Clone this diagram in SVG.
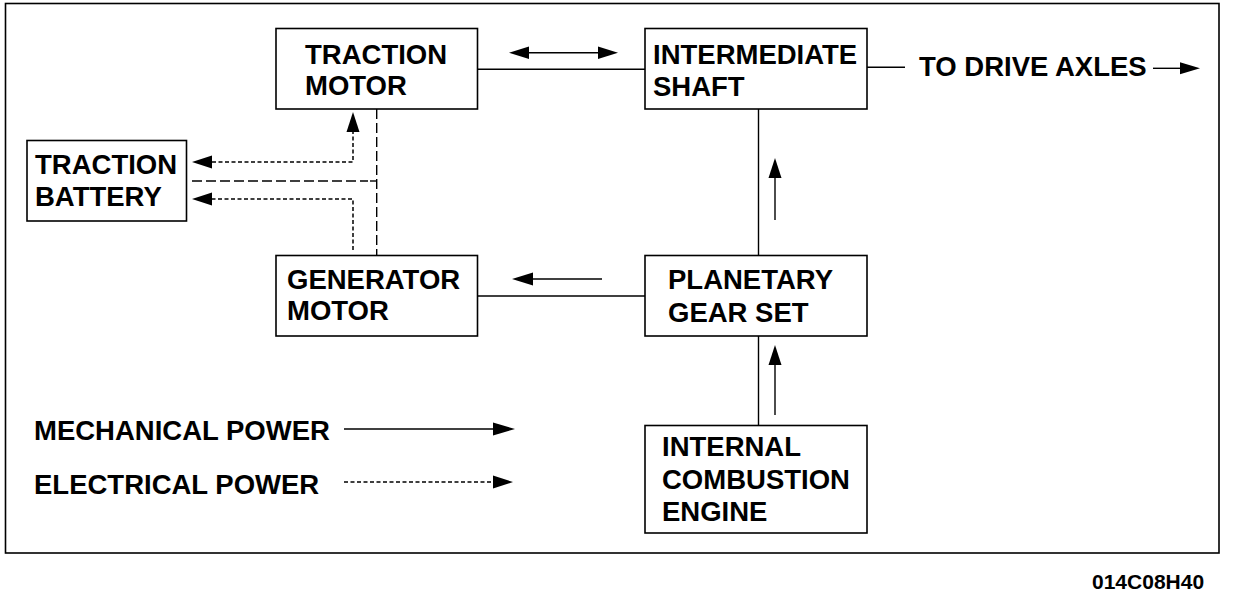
<svg xmlns="http://www.w3.org/2000/svg" width="1248" height="594" viewBox="0 0 1248 594">
<defs>
<style>
.box{fill:#fff;stroke:#000;stroke-width:1.6}
.ln{fill:none;stroke:#000;stroke-width:1.4}
.el{fill:none;stroke:#000;stroke-width:1.5;stroke-dasharray:4 2.5}
.ld{fill:none;stroke:#000;stroke-width:1.4;stroke-dasharray:10 4}
.ah{fill:#000}
text{font-family:"Liberation Sans",Arial,sans-serif;font-weight:bold;font-size:27.5px;fill:#000}
.code{font-size:21px}
</style>
</defs>
<rect width="1248" height="594" fill="#fff"/>
<rect x="5.5" y="3.5" width="1213.5" height="549.5" class="box"/>
<g id="traction-motor">
<rect x="276" y="28.5" width="201.5" height="80.5" class="box"/>
<text x="305" y="64">TRACTION</text>
<text x="305" y="95">MOTOR</text>
</g>
<g id="intermediate-shaft">
<rect x="645" y="28.5" width="222" height="80.5" class="box"/>
<text x="653" y="64">INTERMEDIATE</text>
<text x="653" y="96">SHAFT</text>
</g>
<g id="traction-battery">
<rect x="27" y="140.5" width="159.5" height="80.5" class="box"/>
<text x="35" y="174">TRACTION</text>
<text x="35" y="206">BATTERY</text>
</g>
<g id="generator-motor">
<rect x="276" y="255.5" width="201.5" height="80.5" class="box"/>
<text x="287" y="289">GENERATOR</text>
<text x="287" y="320">MOTOR</text>
</g>
<g id="planetary-gear-set">
<rect x="645" y="255.5" width="222" height="80.5" class="box"/>
<text x="668" y="289">PLANETARY</text>
<text x="668" y="322">GEAR SET</text>
</g>
<g id="internal-combustion-engine">
<rect x="645" y="425.5" width="222" height="107.5" class="box"/>
<text x="662" y="456">INTERNAL</text>
<text x="662" y="489">COMBUSTION</text>
<text x="662" y="521">ENGINE</text>
</g>
<g id="connectors">
<line x1="477.5" y1="69.3" x2="645" y2="69.3" class="ln"/>
<line x1="526" y1="52.7" x2="600" y2="52.7" class="ln"/>
<polygon points="509,52.7 529,46.5 529,58.9" class="ah"/>
<polygon points="618,52.7 598,46.5 598,58.9" class="ah"/>
<line x1="867" y1="67.3" x2="905" y2="67.3" class="ln"/>
<text x="919" y="76">TO DRIVE AXLES</text>
<line x1="1153" y1="68.3" x2="1183" y2="68.3" class="ln"/>
<polygon points="1200,68.3 1180,62.3 1180,74.3" class="ah"/>
<line x1="758.5" y1="109" x2="758.5" y2="255.5" class="ln"/>
<line x1="775" y1="175" x2="775" y2="220" class="ln"/>
<polygon points="775,158 768.5,178 781.5,178" class="ah"/>
<line x1="758.5" y1="336" x2="758.5" y2="425.5" class="ln"/>
<line x1="775" y1="362" x2="775" y2="415" class="ln"/>
<polygon points="775,345 768.5,365 781.5,365" class="ah"/>
<line x1="477.5" y1="296" x2="645" y2="296" class="ln"/>
<line x1="530" y1="279" x2="602" y2="279" class="ln"/>
<polygon points="512,279 533,272.5 533,285.5" class="ah"/>
<polyline points="212,162 353,162 353,130" class="el"/>
<polygon points="353,112 346.5,132 359.5,132" class="ah"/>
<polygon points="192,162 212,155.5 212,168.5" class="ah"/>
<polyline points="353,250 353,199 212,199" class="el"/>
<polygon points="192,199 212,192.5 212,205.5" class="ah"/>
<line x1="376.7" y1="109" x2="376.7" y2="255" class="ld"/>
<line x1="192" y1="181" x2="368" y2="181" class="ld"/>
<line x1="370" y1="181" x2="377" y2="181" class="ln" stroke-width="2"/>
<line x1="344" y1="429" x2="495" y2="429" class="ln"/>
<polygon points="515,429 493,422.5 493,435.5" class="ah"/>
<line x1="344" y1="482" x2="495" y2="482" class="el"/>
<polygon points="513,482 493,475.5 493,488.5" class="ah"/>
</g>
<text x="34" y="440">MECHANICAL POWER</text>
<text x="34" y="494">ELECTRICAL POWER</text>
<text x="1092" y="589" class="code">014C08H40</text>
</svg>
